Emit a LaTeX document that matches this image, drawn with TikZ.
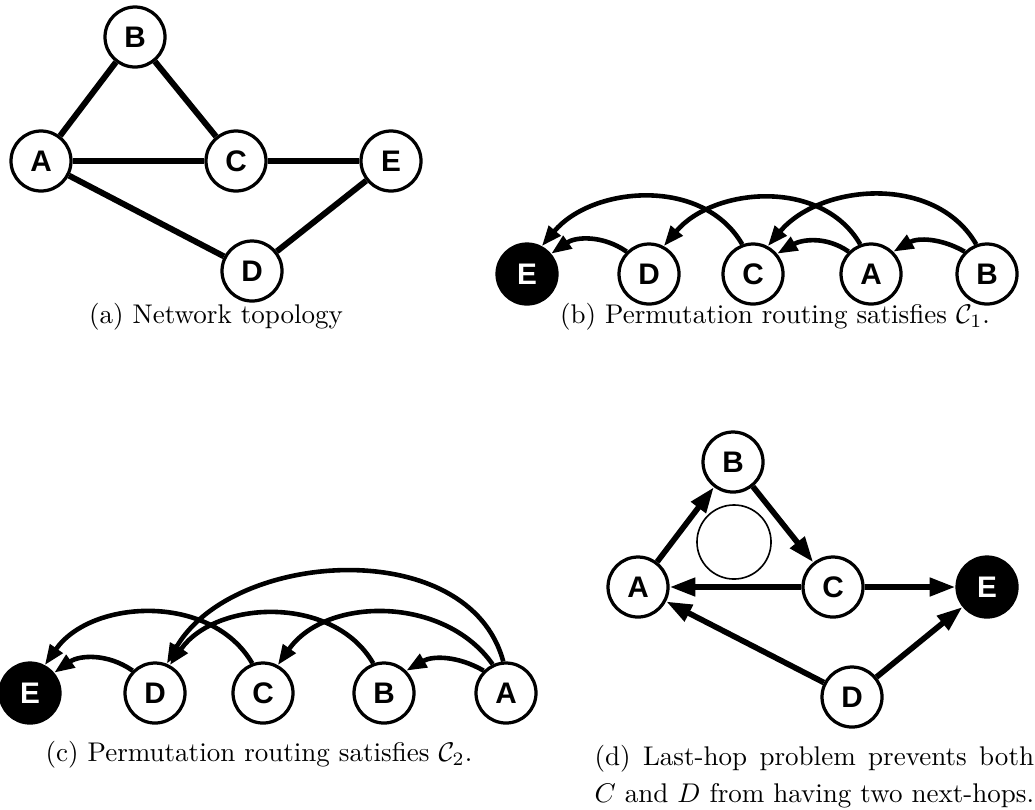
\documentclass[tikz,border=0pt]{standalone}
\usepackage{fontspec}
\newfontfamily\nodefont{Liberation Sans}
\usetikzlibrary{arrows.meta}
\begin{document}
\begin{tikzpicture}[x=0.37pt,y=-0.37pt,
  vtx/.style={circle, draw, line width=1.2pt, fill=white, minimum size=22.2pt,
    inner sep=0pt, font=\nodefont\fontsize{11}{12}\selectfont\bfseries},
  dst/.style={vtx, fill=black, text=white},
  link/.style={line width=2.2pt},
  hop/.style={line width=2.1pt, -{Triangle[length=9.5pt,width=6.5pt]}},
  arc/.style={line width=1.7pt, -{Triangle[length=7.5pt,width=5.5pt]}},
  captext/.style={inner sep=0pt, font=\fontsize{10}{13.5}\selectfont}]
\useasboundingbox (0,0) rectangle (1035,809);

% (a) network topology
\begin{scope}
\node[vtx] (aB) at (135,37) {B};
\node[vtx] (aA) at (41,161) {A};
\node[vtx] (aC) at (236,161) {C};
\node[vtx] (aE) at (391,161) {E};
\node[vtx] (aD) at (252,271) {D};
\draw[link] (aA) -- (aB);
\draw[link] (aB) -- (aC);
\draw[link] (aA) -- (aC);
\draw[link] (aC) -- (aE);
\draw[link] (aA) -- (aD);
\draw[link] (aD) -- (aE);
\node[captext] (capa) at (216,317) {(a) Network topology};
\end{scope}

% (b) permutation routing, order E D C A B
\begin{scope}
\node[dst] (bE) at (527,274) {E};
\node[vtx] (bD) at (649,274) {D};
\node[vtx] (bC) at (753,274) {C};
\node[vtx] (bA) at (871,274) {A};
\node[vtx] (bB) at (987,274) {B};
\draw[arc] (bD.135) to[out=145,in=35] (bE.40);
\draw[arc] (bC.110) to[out=120,in=50] (bE.62);
\draw[arc] (bA.135) to[out=145,in=30] (bC.40);
\draw[arc] (bA.110) to[out=120,in=50] (bD.62);
\draw[arc] (bB.135) to[out=150,in=30] (bA.45);
\draw[arc] (bB.110) to[out=120,in=50] (bC.62);
\node[captext] (capb) at (775,317) {(b) Permutation routing satisfies $\mathcal{C}_1$.};
\end{scope}

% (c) permutation routing, order E D C B A
\begin{scope}
\node[dst] (cE) at (30,693) {E};
\node[vtx] (cD) at (155,693) {D};
\node[vtx] (cC) at (263,693) {C};
\node[vtx] (cB) at (384,693) {B};
\node[vtx] (cA) at (506,693) {A};
\draw[arc] (cD.135) to[out=145,in=35] (cE.40);
\draw[arc] (cC.110) to[out=120,in=55] (cE.62);
\draw[arc] (cB.110) to[out=120,in=55] (cD.62);
\draw[arc] (cA.115) to[out=125,in=55] (cC.62);
\draw[arc] (cA.135) to[out=150,in=30] (cB.45);
\draw[arc] (cA.95) to[out=105,in=60] (cD.68);
\node[captext] (capc) at (259,755) {(c) Permutation routing satisfies $\mathcal{C}_2$.};
\end{scope}

% (d) last-hop problem
\begin{scope}
\node[circle, draw, line width=0.6pt, minimum size=27.4pt, inner sep=0pt] (loop) at (734,542) {};
\node[vtx] (dB) at (733,462) {B};
\node[vtx] (dA) at (638,587) {A};
\node[vtx] (dC) at (833,587) {C};
\node[dst] (dE) at (987,587) {E};
\node[vtx] (dD) at (852,697) {D};
\draw[hop] (dA) -- (dB);
\draw[hop] (dB) -- (dC);
\draw[hop] (dC) -- (dA);
\draw[hop] (dC) -- (dE);
\draw[hop] (dD) -- (dA);
\draw[hop] (dD) -- (dE);
% two-line caption, first line stretched to the width of the second
\node[captext, anchor=north west] (capd) at (594,745)
  {\setbox0\hbox{$C$ and $D$ from having two next-hops.}%
   \vbox{\hbox{\makebox[\wd0][s]{(d) Last-hop problem prevents both}}\box0}};
\end{scope}
\end{tikzpicture}
\end{document}
